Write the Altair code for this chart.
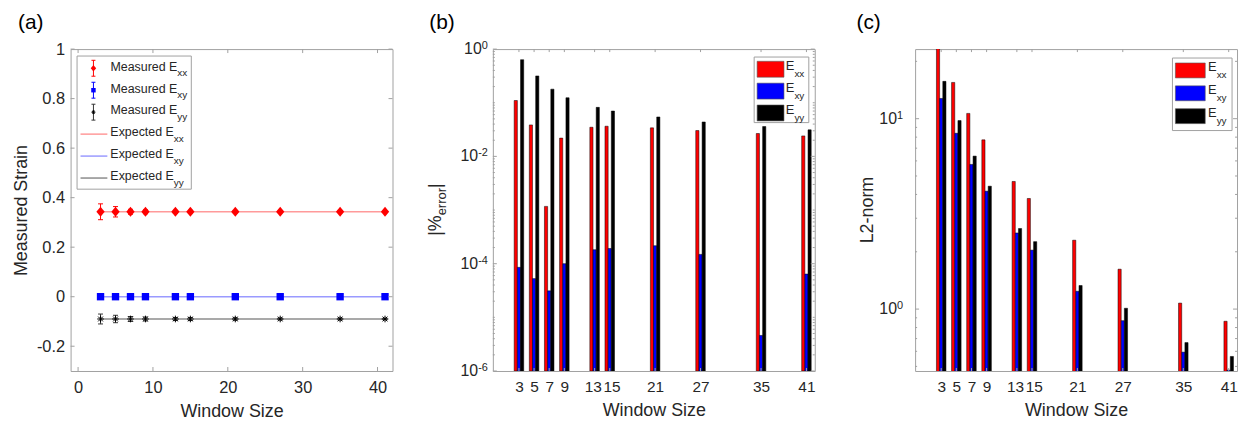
import altair as alt
import pandas as pd

FONT = "Liberation Sans"
TXT = "#262626"
FRAME = "#a0a0a0"

# ---------------- data ----------------
window = [3, 5, 7, 9, 13, 15, 21, 27, 35, 41]
series_names = ["Exx", "Exy", "Eyy"]

# (a) measured strain
meas_exx = [0.343, 0.343, 0.343, 0.343, 0.343, 0.343, 0.343, 0.343, 0.343, 0.343]
err_exx = [0.032, 0.021, 0.010, 0.008, 0.006, 0.006, 0.005, 0.004, 0.004, 0.003]
meas_exy = [0.0, 0.0, 0.0, 0.0, 0.0, 0.0, 0.0, 0.0, 0.0, 0.0]
err_exy = [0.006, 0.004, 0.003, 0.003, 0.002, 0.002, 0.002, 0.001, 0.001, 0.001]
meas_eyy = [-0.090, -0.090, -0.090, -0.090, -0.090, -0.090, -0.090, -0.090, -0.090, -0.090]
err_eyy = [0.020, 0.015, 0.010, 0.008, 0.006, 0.006, 0.005, 0.004, 0.004, 0.003]
expected_vals = [0.343, 0.0, -0.090]

a_xticks = [0, 10, 20, 30, 40]
a_yticks = [-0.2, 0, 0.2, 0.4, 0.6, 0.8, 1]
legend_a_main = ["Measured E", "Measured E", "Measured E", "Expected E", "Expected E", "Expected E"]
legend_a_sub = ["xx", "xy", "yy", "xx", "xy", "yy"]

# (b) |% error|
pct_exx = [0.110, 0.0386, 0.00117, 0.0219, 0.0349, 0.0365, 0.0340, 0.0303, 0.0267, 0.0241]
pct_exy = [8.55e-5, 5.27e-5, 3.12e-5, 1.0e-4, 1.82e-4, 1.92e-4, 2.16e-4, 1.49e-4, 4.6e-6, 6.4e-5]
pct_eyy = [0.634, 0.316, 0.179, 0.124, 0.082, 0.070, 0.0543, 0.0438, 0.036, 0.0312]
b_major = [1, 1e-2, 1e-4, 1e-6]
b_major_base = ["10", "10", "10", "10"]
b_major_exp = ["0", "-2", "-4", "-6"]

# (c) L2-norm
l2_exx = [24.5, 15.5, 10.66, 7.74, 4.68, 3.81, 2.30, 1.62, 1.075, 0.863]
l2_exy = [12.77, 8.38, 5.75, 4.16, 2.51, 2.04, 1.24, 0.869, 0.594, 0.478]
l2_eyy = [15.7, 9.77, 6.36, 4.42, 2.65, 2.26, 1.33, 1.01, 0.667, 0.564]
c_major = [10, 1]
c_major_base = ["10", "10"]
c_major_exp = ["1", "0"]

legend_bc_main = ["E", "E", "E"]
legend_bc_sub = ["xx", "xy", "yy"]

bar_colors = ["#ff0000", "#0000ff", "#000000"]
meas_colors = ["#ff0000", "#0000ff", "#333333"]
exp_colors = ["#ff9a9a", "#9a9aff", "#8c8c8c"]

W, H = 324, 324
ONE = pd.DataFrame({"k": [0]})


def txt(text, x, y, size, align="left", baseline="alphabetic", angle=0, color=TXT):
    kw = dict(align=align, baseline=baseline, fontSize=size, color=color, font=FONT)
    if angle:
        kw["angle"] = angle
    return alt.Chart(ONE).mark_text(**kw).encode(
        x=alt.value(x), y=alt.value(y), text=alt.value(text))


def frame_ticks(vals, scale, channel, length, axis):
    df = pd.DataFrame({"t": vals})
    base = alt.Chart(df).mark_rule(color=FRAME, strokeWidth=1)
    if channel == "x":
        enc = alt.X("t:Q", scale=scale, axis=axis)
        return [
            base.encode(x=enc, y=alt.value(H), y2=alt.value(H - length)),
            base.encode(x=enc, y=alt.value(0), y2=alt.value(length)),
        ]
    enc = alt.Y("t:Q", scale=scale, axis=axis)
    return [
        base.encode(y=enc, x=alt.value(0), x2=alt.value(length)),
        base.encode(y=enc, x=alt.value(W), x2=alt.value(W - length)),
    ]


def panel_label(t, x):
    return txt(t, x, -20, 21, color="#000000")


def vrule(x, y1, y2, color, width=1):
    return alt.Chart(ONE).mark_rule(color=color, strokeWidth=width, opacity=1).encode(
        x=alt.value(x), y=alt.value(y1), y2=alt.value(y2))


def hrule(x1, x2, y, color, width=1):
    return alt.Chart(ONE).mark_rule(color=color, strokeWidth=width, opacity=1).encode(
        x=alt.value(x1), x2=alt.value(x2), y=alt.value(y))


def rect(x1, x2, y1, y2, fill, stroke, sw=1):
    return alt.Chart(ONE).mark_rect(fill=fill, stroke=stroke, strokeWidth=sw, opacity=1,
                                    fillOpacity=1).encode(
        x=alt.value(x1), x2=alt.value(x2), y=alt.value(y1), y2=alt.value(y2))


def sym(x, y, shape, size, color, filled=True):
    return alt.Chart(ONE).mark_point(shape=shape, size=size, color=color, filled=filled,
                                     opacity=1, strokeWidth=1).encode(
        x=alt.value(x), y=alt.value(y))


DIAMOND = "M0,-1.2L1,0L0,1.2L-1,0Z"
STAR = "M-1,0L1,0M0,-1L0,1M-0.72,-0.72L0.72,0.72M-0.72,0.72L0.72,-0.72"

# ---------------- panel (a) ----------------
sxa = alt.Scale(domain=[-1, 42], nice=False, zero=False)
sya = alt.Scale(domain=[-0.3, 1], nice=False, zero=False)
axis_xa = alt.Axis(values=a_xticks, title="Window Size", format="d", labelPadding=9,
                   titlePadding=6, labelFontSize=16.5)
axis_ya = alt.Axis(values=a_yticks, title="Measured Strain", labelPadding=6, titlePadding=6,
                   labelFontSize=16.5,
                   labelExpr="datum.value == 0 ? '0' : datum.value == 1 ? '1' : "
                             "(datum.value < 0 ? '-' : '') + format(abs(datum.value), '.1f')")


def XA(f):
    return alt.X(f, type="quantitative", scale=sxa, axis=axis_xa)


def YA(f):
    return alt.Y(f, type="quantitative", scale=sya, axis=axis_ya)


rows = []
for s, vals, errs in zip(series_names, [meas_exx, meas_exy, meas_eyy], [err_exx, err_exy, err_eyy]):
    for w, v, e in zip(window, vals, errs):
        rows.append({"window": w, "value": v, "err": e, "series": s})
df_meas = pd.DataFrame(rows)

exp_rows = []
for s, v in zip(series_names, expected_vals):
    exp_rows.append({"window": window[0], "value": v, "series": s})
    exp_rows.append({"window": window[-1], "value": v, "series": s})
df_exp = pd.DataFrame(exp_rows)

marker_specs = [
    dict(shape=DIAMOND, filled=True, size=70, color="#ff0000"),
    dict(shape="square", filled=True, size=55, color="#0000ff"),
    dict(shape=STAR, filled=False, size=45, color="#000000", strokeWidth=1),
]

layers_a = []
for k, s in enumerate(series_names):
    layers_a.append(alt.Chart(df_exp).transform_filter(f"datum.series == '{s}'").mark_line(
        strokeWidth=1.5, opacity=1, color=exp_colors[k]).encode(x=XA("window"), y=YA("value")))
for k, s in enumerate(series_names):
    mb = alt.Chart(df_meas).transform_filter(f"datum.series == '{s}'").transform_calculate(
        lo="datum.value - datum.err", hi="datum.value + datum.err")
    c = meas_colors[k]
    layers_a += [
        mb.mark_rule(strokeWidth=1, opacity=1, color=c).encode(x=XA("window"), y=YA("lo"), y2="hi:Q"),
        mb.mark_tick(orient="horizontal", size=5, thickness=1, opacity=1, color=c).encode(
            x=XA("window"), y=YA("lo")),
        mb.mark_tick(orient="horizontal", size=5, thickness=1, opacity=1, color=c).encode(
            x=XA("window"), y=YA("hi")),
    ]
for k, s in enumerate(series_names):
    layers_a.append(alt.Chart(df_meas).transform_filter(f"datum.series == '{s}'").mark_point(
        opacity=1, **marker_specs[k]).encode(x=XA("window"), y=YA("value")))

layers_a += frame_ticks(a_xticks, sxa, "x", 4, axis_xa)
layers_a += frame_ticks(a_yticks, sya, "y", 4, axis_ya)

# legend (a)
leg_a = [rect(6.5, 121.5, 7, 141, "white", FRAME)]
sym_shapes = [(DIAMOND, 30), ("square", 20), (STAR, 16)]
for i, (main, sub) in enumerate(zip(legend_a_main, legend_a_sub)):
    py = 19.3 + 22.1 * i
    k = i % 3
    if i < 3:
        c = meas_colors[k]
        leg_a += [vrule(23, py - 8, py + 8, c), hrule(21, 25, py - 8, c), hrule(21, 25, py + 8, c),
                  sym(23, py, sym_shapes[k][0], sym_shapes[k][1],
                      ["#ff0000", "#0000ff", "#000000"][k], filled=(k < 2))]
        x0 = 107.4
    else:
        leg_a += [hrule(10, 37, py, exp_colors[k], 1.5)]
        x0 = 103.9
    leg_a += [txt(main, x0, py + 2.3, 12.5, align="right"), txt(sub, x0, py + 8, 10)]

pa = alt.layer(*layers_a, *leg_a, panel_label("(a)", -53)).properties(width=W, height=H)


# ---------------- bar panels (b), (c) ----------------
def bar_panel(vals3, sy, base_val, majors, major_base, major_exp, minors, exp_right,
              title_layers, legend_geom, label_txt, label_x):
    sx = alt.Scale(domain=[-0.45, 42.1], nice=False, zero=False)
    axis_x = alt.Axis(
        values=window, title="Window Size", format="d", labelPadding=9,
        titlePadding=6, labelOverlap=False, labelFlush=False, labelBound=False,
        labelFontSize=15.5,
        labelOffset={"condition": [{"test": "datum.value == 13", "value": -1.8},
                                   {"test": "datum.value == 15", "value": 1.8}],
                     "value": 0},
    )
    offsets = [-0.42, 0.0, 0.42]
    bars = []
    for k, vals in enumerate(vals3):
        df = pd.DataFrame({"window": window, "value": vals})
        bars.append(alt.Chart(df).transform_calculate(
            x1=f"datum.window + {offsets[k]} - 0.21",
            x2=f"datum.window + {offsets[k]} + 0.21",
            base=repr(base_val),
        ).mark_bar(color=bar_colors[k], stroke="#000000", strokeWidth=0.5, clip=True,
                   opacity=1, fillOpacity=1).encode(
            x=alt.X("x1:Q", scale=sx, axis=axis_x), x2="x2:Q",
            y=alt.Y("value:Q", scale=sy, axis=None), y2="base:Q"))
    labs = []
    for v, b, e in zip(majors, major_base, major_exp):
        ew = 9.8 if len(e) > 1 else 6.2
        dfl = pd.DataFrame({"v": [v], "b": [b], "e": [e]})
        labs.append(alt.Chart(dfl).mark_text(align="right", baseline="middle", fontSize=16,
                                             color=TXT, font=FONT).encode(
            x=alt.value(exp_right - ew), y=alt.Y("v:Q", scale=sy, axis=None), text="b:N"))
        labs.append(alt.Chart(dfl).mark_text(align="right", baseline="alphabetic", fontSize=11,
                                             color=TXT, font=FONT).encode(
            x=alt.value(exp_right), y=alt.Y("v:Q", scale=sy, axis=None), text="e:N"))

    bx0, bx1, by0, by1, sw0, sw1, ty0, dy, sh, ex = legend_geom
    leg = [rect(bx0, bx1, by0, by1, "white", FRAME)]
    for i, (main, sub) in enumerate(zip(legend_bc_main, legend_bc_sub)):
        yc = ty0 + dy * i
        leg += [rect(sw0, sw1, yc - sh / 2, yc + sh / 2, bar_colors[i], "#555555", 0.6),
                txt(main, ex, yc + 1, 13, align="right"), txt(sub, ex, yc + 8, 10)]

    return alt.layer(
        *bars,
        *frame_ticks(window, sx, "x", 3, axis_x),
        *frame_ticks(majors, sy, "y", 4, None),
        *frame_ticks(minors, sy, "y", 2, None),
        *labs, *title_layers,
        *leg, panel_label(label_txt, label_x),
    ).properties(width=W, height=H)


syb = alt.Scale(type="log", domain=[1e-6, 1], nice=False)
b_minor = [m * 10.0 ** k for k in range(-6, 0) for m in range(2, 10)] + [1e-5, 1e-3, 1e-1]
title_b = [
    txt("|%", -52, 188, 18, angle=270),
    txt("error", -47, 167.3, 13, angle=270),
    txt("|", -52, 139.9, 18, angle=270),
]
pb = bar_panel([pct_exx, pct_exy, pct_eyy], syb, 1e-6, b_major, b_major_base, b_major_exp,
               b_minor, -5, title_b,
               (263, 318, 8, 74, 266, 293, 20.3, 22, 16, 303.5), "(b)", -64)

syc = alt.Scale(type="log", domain=[0.473, 23.2], nice=False)
c_minor = [0.5, 0.6, 0.7, 0.8, 0.9, 2, 3, 4, 5, 6, 7, 8, 9, 20]
title_c = [txt("L2-norm", -42, 162, 18, align="center", angle=270)]
pc = bar_panel([l2_exx, l2_exy, l2_eyy], syc, 0.3, c_major, c_major_base, c_major_exp,
               c_minor, -12, title_c,
               (259, 319, 9, 82, 262, 292, 21.5, 23, 15, 303.5), "(c)", -59)

chart = alt.hconcat(
    pa, pb, pc, spacing=101, bounds="flush",
    padding={"left": 4, "top": 2, "right": 2, "bottom": 2},
).configure_view(stroke=FRAME, strokeWidth=1).configure_axis(
    labelFont=FONT, titleFont=FONT, labelColor=TXT, titleColor=TXT,
    labelFontSize=16, titleFontSize=18, titleFontWeight="normal",
    grid=False, ticks=False, domain=False, tickSize=0,
).configure_text(font=FONT)

chart.save("out.html", embed_options={"renderer": "svg", "actions": False})
